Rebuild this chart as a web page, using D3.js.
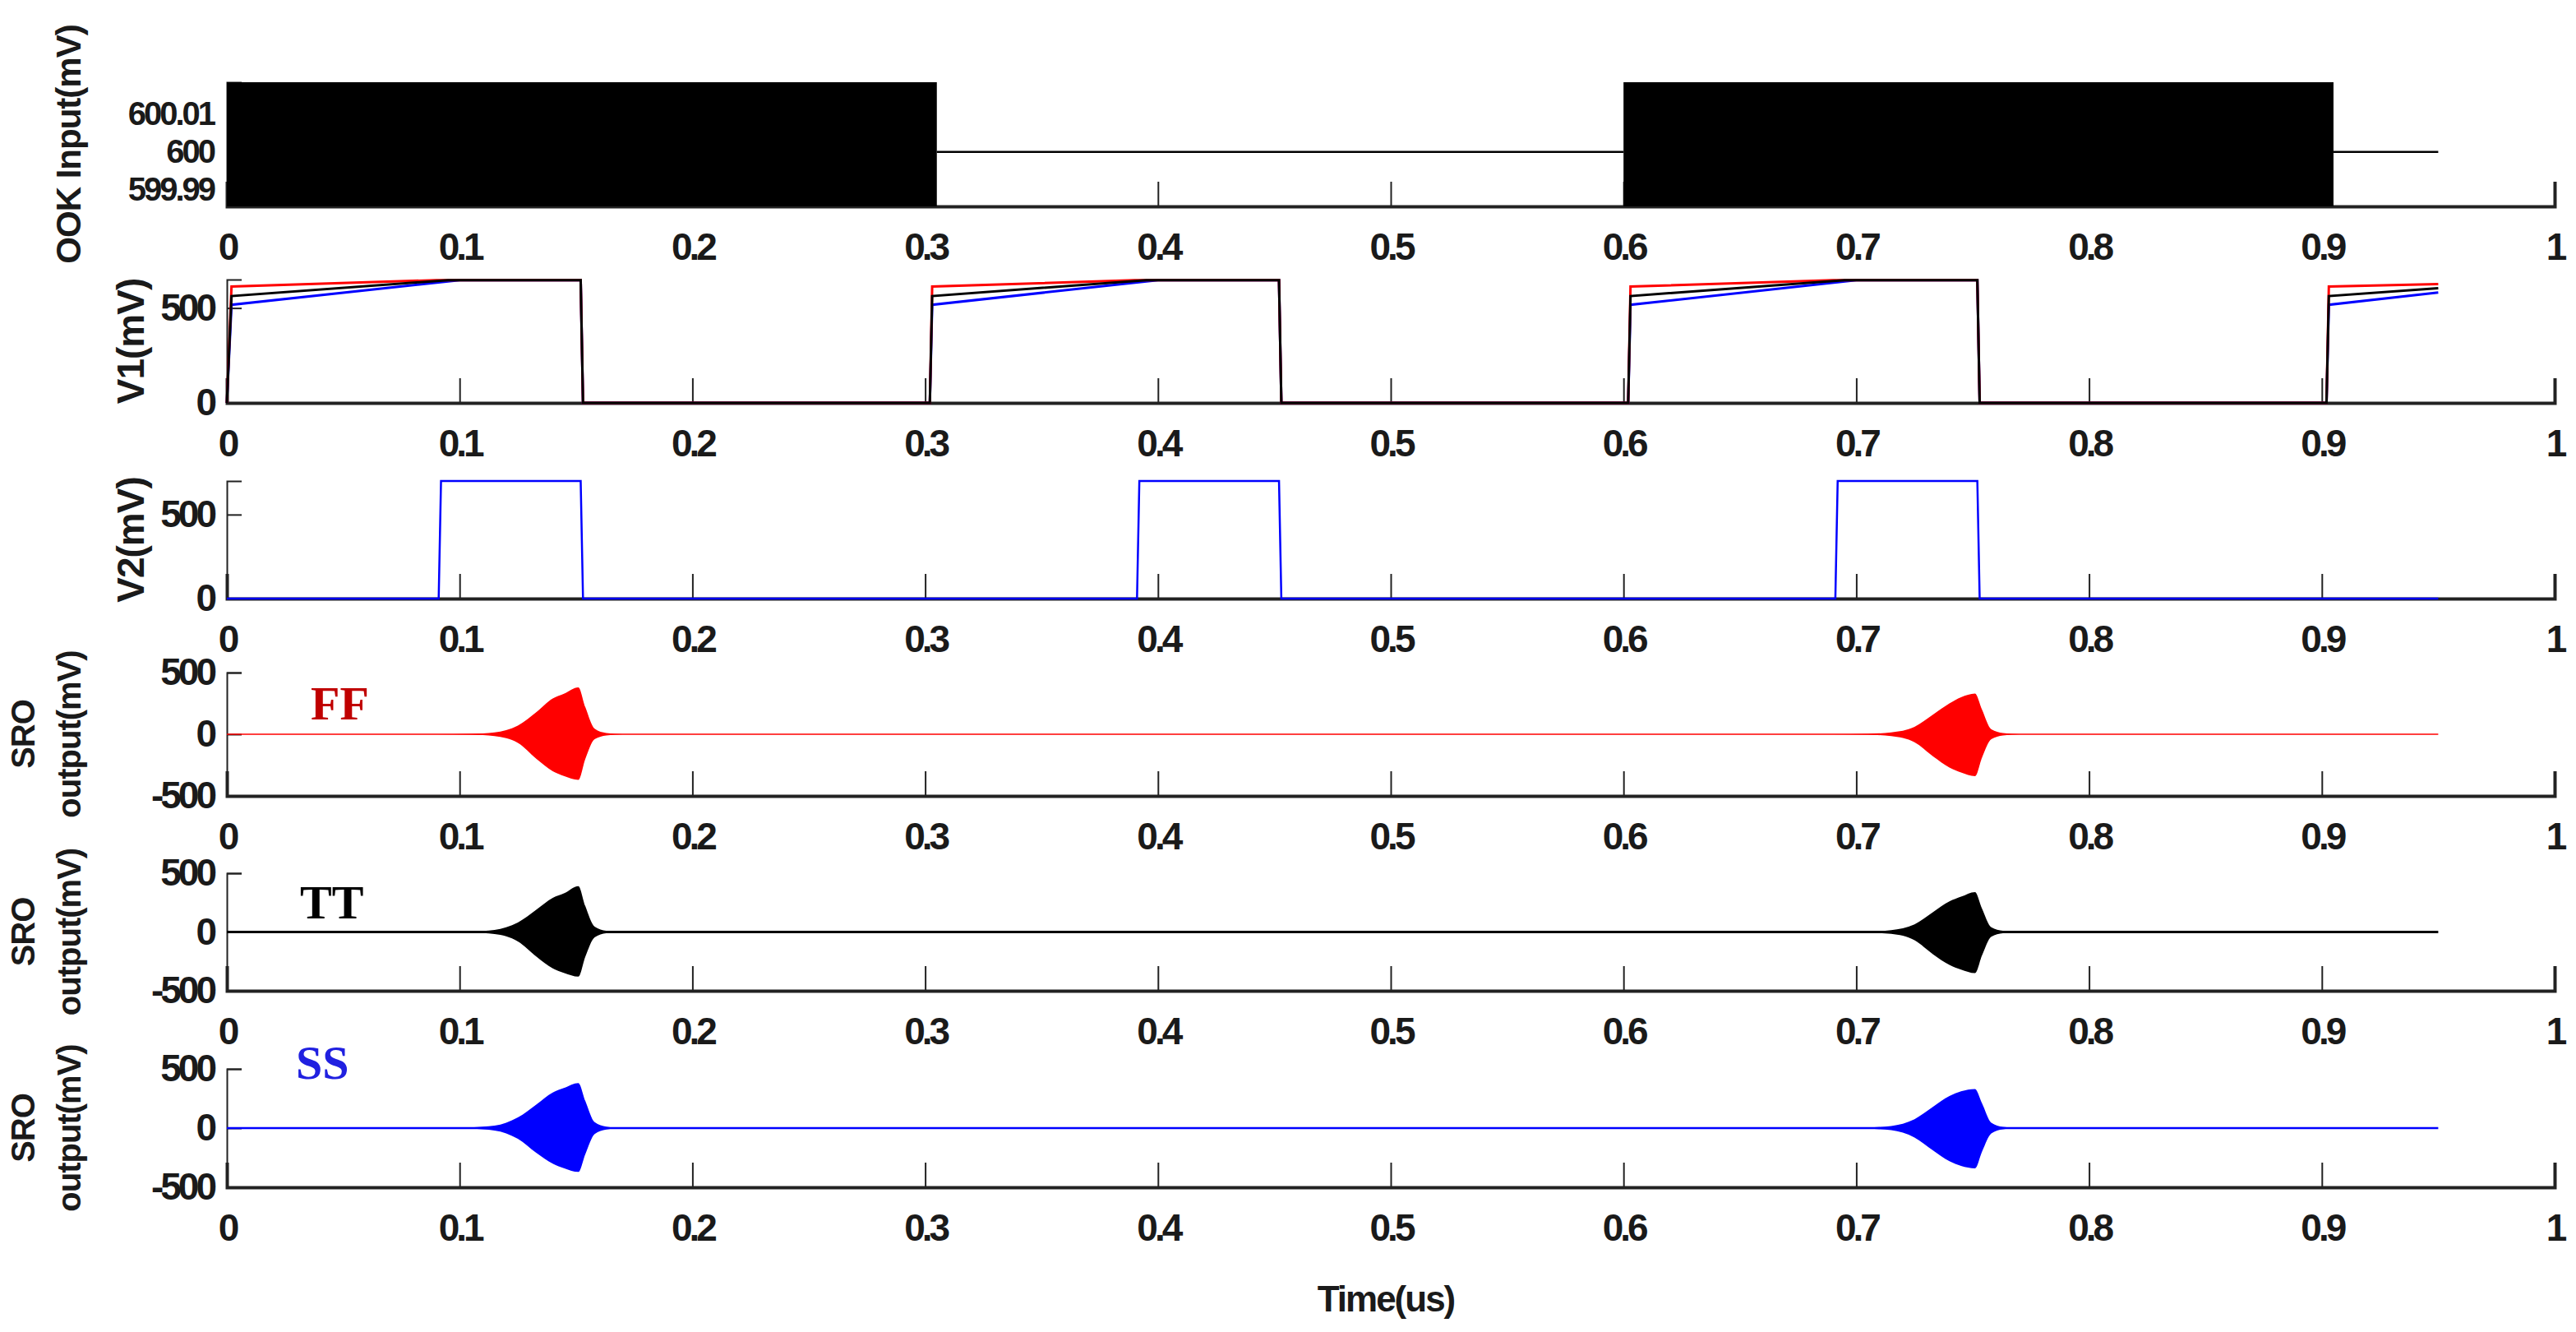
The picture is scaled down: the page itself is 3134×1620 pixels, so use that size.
<html><head>
<meta charset="utf-8">
<script src="https://d3js.org/d3.v7.min.js"></script>
<style>
  body { margin: 0; background: #fff; }
  text { font-family: "Liberation Sans", Arial, sans-serif; font-weight: bold; fill: #1a1a1a; }
  .tick text { font-size: 46px; letter-spacing: -4px; }
  .ook .tick text { font-size: 40px; letter-spacing: -3px; }
  .corner { font-family: "Liberation Serif", "Times New Roman", serif; font-weight: bold; font-size: 58px; }
</style>
</head>
<body>
<svg id="chart" width="3134" height="1620"></svg>
<script>
// ---- data ----
const timeTicks = [0, 0.1, 0.2, 0.3, 0.4, 0.5, 0.6, 0.7, 0.8, 0.9, 1];

// OOK input: carrier bursts (filled) and idle level
const ookBursts = [[0, 0.305], [0.6, 0.905]];
const ookIdle = [[0.305, 0.6], [0.905, 0.95]];
const ookTicks = [599.99, 600, 600.01];

// V1 (mV) per corner, [t, v]
const v1Red = [[0,0],[0.002,613],[0.09,647],[0.152,647],[0.153,0],[0.302,0],[0.303,613],[0.39,647],[0.452,647],[0.453,0],
  [0.602,0],[0.603,613],[0.69,647],[0.752,647],[0.753,0],[0.902,0],[0.903,613],[0.95,626]];
const v1Black = [[0,0],[0.002,563],[0.095,647],[0.152,647],[0.153,0],[0.302,0],[0.303,563],[0.395,647],[0.452,647],[0.453,0],
  [0.602,0],[0.603,563],[0.695,647],[0.752,647],[0.753,0],[0.902,0],[0.903,563],[0.95,605]];
const v1Blue = [[0,0],[0.002,517],[0.1,647],[0.152,647],[0.153,0],[0.302,0],[0.303,517],[0.4,647],[0.452,647],[0.453,0],
  [0.602,0],[0.603,517],[0.7,647],[0.752,647],[0.753,0],[0.902,0],[0.903,517],[0.95,582]];

// V2 (mV)
const v2 = [[0,0],[0.091,0],[0.092,700],[0.152,700],[0.153,0],[0.391,0],[0.392,700],[0.452,700],[0.453,0],
  [0.691,0],[0.692,700],[0.752,700],[0.753,0],[0.95,0]];

// SRO output envelopes, [t, upper, lower] in mV
const ffEnv1 = [[0.09,0,0],[0.105,4,-4],[0.115,15,-15],[0.125,70,-70],[0.133,180,-200],[0.14,290,-300],[0.145,330,-340],
  [0.151,380,-370],[0.154,220,-200],[0.158,45,-40],[0.163,10,-10],[0.17,0,0]];
const ffEnv2 = [[0.69,0,0],[0.705,4,-4],[0.715,15,-15],[0.725,60,-65],[0.733,160,-180],[0.74,250,-270],[0.745,300,-310],
  [0.751,330,-340],[0.754,200,-190],[0.758,40,-40],[0.763,10,-10],[0.77,0,0]];
const ttEnv1 = [[0.09,0,0],[0.105,5,-5],[0.115,18,-18],[0.125,80,-80],[0.133,190,-210],[0.14,290,-310],[0.145,330,-350],
  [0.151,390,-380],[0.154,220,-210],[0.158,45,-45],[0.163,10,-10],[0.17,0,0]];
const ttEnv2 = [[0.69,0,0],[0.705,5,-5],[0.715,16,-16],[0.725,65,-70],[0.733,170,-190],[0.74,260,-280],[0.745,300,-320],
  [0.751,340,-350],[0.754,200,-200],[0.758,40,-40],[0.763,10,-10],[0.77,0,0]];
const ssEnv1 = [[0.09,0,0],[0.105,6,-6],[0.115,20,-20],[0.125,90,-90],[0.133,200,-210],[0.14,300,-300],[0.145,340,-340],
  [0.151,380,-370],[0.154,230,-220],[0.158,50,-50],[0.163,12,-12],[0.17,0,0]];
const ssEnv2 = [[0.69,0,0],[0.705,5,-5],[0.715,18,-18],[0.725,75,-80],[0.733,180,-190],[0.74,270,-280],[0.745,310,-320],
  [0.751,330,-340],[0.754,210,-200],[0.758,45,-45],[0.763,10,-10],[0.77,0,0]];
const sroTicks = [-500, 0, 500];

// ---- layout ----
const svg = d3.select("#chart");
const x = d3.scaleLinear().domain([0, 1]).range([276, 3108]);
const plain = d => String(d);

function panel(top, bottom, domain, ticks, labelLines, labelX, labelSize, cls) {
  const y = d3.scaleLinear().domain(domain).range([bottom, top]);
  const g = svg.append("g").attr("class", cls || null);
  // bottom axis, ticks inward
  const xa = g.append("g").attr("class", "xaxis").attr("transform", "translate(0," + bottom + ")")
    .call(d3.axisBottom(x).tickValues(timeTicks).tickSize(-30).tickPadding(40).tickFormat(plain));
  xa.select(".domain").attr("stroke", "#222").attr("stroke-width", 4);
  xa.selectAll(".tick line").attr("stroke", "#222").attr("stroke-width", 2);
  xa.selectAll(".tick text").attr("dy", "0.55em").style("font-size", "46px").style("letter-spacing", "-4px");
  const ya = g.append("g").attr("transform", "translate(" + x(0) + ",0)")
    .call(d3.axisLeft(y).tickValues(ticks).tickSize(-18).tickPadding(16).tickFormat(plain));
  ya.select(".domain").attr("stroke", "#222").attr("stroke-width", 2);
  ya.selectAll(".tick line").attr("stroke", "#222").attr("stroke-width", 2);
  const lbl = g.append("text").attr("text-anchor", "middle").attr("font-size", labelSize)
    .attr("letter-spacing", -1)
    .attr("transform", "translate(" + labelX + "," + (top + bottom) / 2 + ") rotate(-90)");
  labelLines.forEach((s, i) => {
    lbl.append("tspan").attr("x", 0).attr("dy", i === 0 ? (labelLines.length > 1 ? -28 : 16) : 56).text(s);
  });
  return { g, y };
}

const line = y => d3.line().x(d => x(d[0])).y(d => y(d[1]));

// OOK input
let p = panel(100, 251, [599.9855, 600.0185], ookTicks, ["OOK Input(mV)"], 82, 42, "ook");
ookBursts.forEach(b => {
  p.g.append("rect").attr("x", x(b[0])).attr("width", x(b[1]) - x(b[0]))
    .attr("y", 100).attr("height", 151).attr("fill", "#000");
});
ookIdle.forEach(s => {
  p.g.append("path").datum([[s[0], 600], [s[1], 600]]).attr("d", line(p.y))
    .attr("fill", "none").attr("stroke", "#000").attr("stroke-width", 2.5);
});

// V1
p = panel(340, 490, [0, 650], [0, 500], ["V1(mV)"], 159, 46);
[[v1Blue, "#00f"], [v1Red, "#f00"], [v1Black, "#000"]].forEach(s => {
  p.g.append("path").datum(s[0]).attr("d", line(p.y))
    .attr("fill", "none").attr("stroke", s[1]).attr("stroke-width", 3);
});

// V2
p = panel(585, 728, [0, 700], [0, 500], ["V2(mV)"], 159, 46);
p.g.append("path").datum(v2).attr("d", line(p.y))
  .attr("fill", "none").attr("stroke", "#00f").attr("stroke-width", 2.5);

// SRO outputs
const sro = [
  { top: 818, bottom: 968, envs: [ffEnv1, ffEnv2], color: "#f00", base: 1.5, name: "FF", nameColor: "#c00000", nx: 378, ny: 875 },
  { top: 1062, bottom: 1205, envs: [ttEnv1, ttEnv2], color: "#000", base: 3, name: "TT", nameColor: "#000", nx: 365, ny: 1117 },
  { top: 1300, bottom: 1444, envs: [ssEnv1, ssEnv2], color: "#00f", base: 2.5, name: "SS", nameColor: "#2020e0", nx: 360, ny: 1312 }
];
sro.forEach(s => {
  const q = panel(s.top, s.bottom, [-500, 500], sroTicks, ["SRO", "output(mV)"], 70, 40);
  q.g.append("path").datum([[0, 0], [0.95, 0]]).attr("d", line(q.y))
    .attr("fill", "none").attr("stroke", s.color).attr("stroke-width", s.base);
  const area = d3.area().x(d => x(d[0])).y0(d => q.y(d[2])).y1(d => q.y(d[1])).curve(d3.curveMonotoneX);
  s.envs.forEach(e => {
    q.g.append("path").datum(e).attr("d", area).attr("fill", s.color);
  });
  q.g.append("text").attr("class", "corner").attr("x", s.nx).attr("y", s.ny)
    .style("fill", s.nameColor).text(s.name);
});

svg.append("text").attr("x", 1686).attr("y", 1595).attr("text-anchor", "middle")
  .attr("font-size", 44).attr("letter-spacing", -2).text("Time(us)");
</script>
</body></html>
